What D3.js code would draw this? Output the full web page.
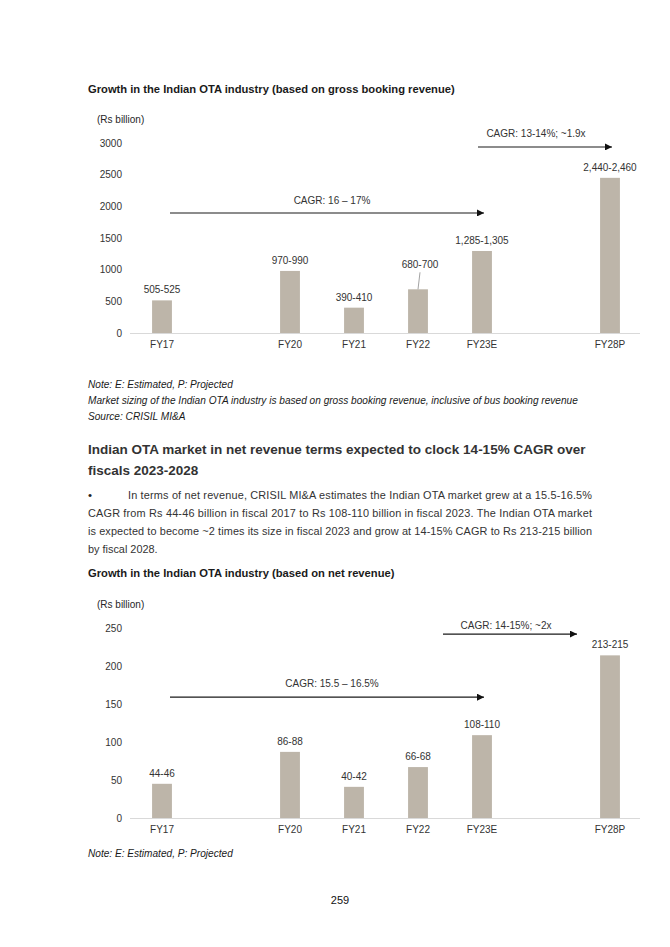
<!DOCTYPE html>
<html>
<head>
<meta charset="utf-8">
<script src="https://cdn.jsdelivr.net/npm/d3@7/dist/d3.min.js"></script>
<style>
  html, body { margin: 0; padding: 0; background: #fff; }
  svg { display: block; }
  text { font-family: Arial, "Liberation Sans", sans-serif; }
</style>
</head>
<body>
<svg id="page" width="670" height="947"></svg>
<script>
// ---------- DATA ----------
const categories = ["FY17", "FY20", "FY21", "FY22", "FY23E", "FY28P"];
// axis slots (empty gaps keep the original spacing)
const slots = ["FY17", "gap1", "FY20", "FY21", "FY22", "FY23E", "gap2", "FY28P"];

const grossValues = [515, 980, 400, 690, 1295, 2450];
const grossLabels = ["505-525", "970-990", "390-410", "680-700", "1,285-1,305", "2,440-2,460"];
const grossTicks = [0, 500, 1000, 1500, 2000, 2500, 3000];

const netValues = [45, 87, 41, 67, 109, 214];
const netLabels = ["44-46", "86-88", "40-42", "66-68", "108-110", "213-215"];
const netTicks = [0, 50, 100, 150, 200, 250];

const grossCagr = ["CAGR: 16 – 17%", "CAGR: 13-14%; ~1.9x"];
const netCagr = ["CAGR: 15.5 – 16.5%", "CAGR: 14-15%; ~2x"];

const unitLabel = "(Rs billion)";
const title1 = "Growth in the Indian OTA industry (based on gross booking revenue)";
const title2 = "Growth in the Indian OTA industry (based on net revenue)";
const notes1 = ["Note: E: Estimated, P: Projected",
  "Market sizing of the Indian OTA industry is based on gross booking revenue, inclusive of bus booking revenue",
  "Source: CRISIL MI&A"];
const note2 = "Note: E: Estimated, P: Projected";
const heading = ["Indian OTA market in net revenue terms expected to clock 14-15% CAGR over", "fiscals 2023-2028"];
const para = [
  "In terms of net revenue, CRISIL MI&A estimates the Indian OTA market grew at a 15.5-16.5%",
  "CAGR from Rs 44-46 billion in fiscal 2017 to Rs 108-110 billion in fiscal 2023. The Indian OTA market",
  "is expected to become ~2 times its size in fiscal 2023 and grow at 14-15% CAGR to Rs 213-215 billion",
  "by fiscal 2028."];
const pageNo = "259";

// ---------- STYLE ----------
const BAR = "#bdb5a9";
const TXT = "#262626";
const AX = "#d9d9d9";

const svg = d3.select("#page");
svg.append("rect").attr("width", 670).attr("height", 947).attr("fill", "#fff");

const defs = svg.append("defs");
defs.append("marker").attr("id", "arr").attr("viewBox", "0 0 10 10")
  .attr("refX", 10).attr("refY", 5).attr("markerWidth", 9).attr("markerHeight", 7)
  .attr("markerUnits", "userSpaceOnUse").attr("orient", "auto")
  .append("path").attr("d", "M0,0 L10,5 L0,10 Z").attr("fill", "#111");

// ---------- TEXT BLOCKS ----------
function txt(x, y, s, opts = {}) {
  const t = svg.append("text").attr("x", x).attr("y", y).text(s)
    .attr("fill", opts.fill || TXT)
    .attr("font-size", opts.size || 10)
    .attr("font-weight", opts.weight || "normal")
    .attr("font-style", opts.style || "normal");
  if (opts.anchor) t.attr("text-anchor", opts.anchor);
  if (opts.family) t.attr("font-family", opts.family);
  if (opts.len) t.attr("textLength", opts.len).attr("lengthAdjust", "spacing");
  return t;
}

txt(88, 93, title1, { size: 11.2, weight: "bold", fill: "#1a1a1a" });
notes1.forEach((n, i) => txt(88, 387.5 + i * 16, n, { size: 10.1, style: "italic", fill: "#1a1a1a" }));
txt(88, 454, heading[0], { size: 13.5, weight: "bold", fill: "#333" });
txt(88, 474.5, heading[1], { size: 13.5, weight: "bold", fill: "#333" });
txt(88, 499, "•", { size: 11.5, fill: "#222" });
txt(128, 499, para[0], { size: 10.9, fill: "#333", len: 464 });
txt(88, 517, para[1], { size: 10.9, fill: "#333", len: 504 });
txt(88, 535, para[2], { size: 10.9, fill: "#333", len: 504 });
txt(88, 553, para[3], { size: 10.9, fill: "#333" });
txt(88, 577, title2, { size: 11.2, weight: "bold", fill: "#1a1a1a" });
txt(88, 856.5, note2, { size: 10.1, style: "italic", fill: "#1a1a1a" });
txt(340, 904, pageNo, { size: 11, family: "'Liberation Serif', 'DejaVu Serif', serif", anchor: "middle", fill: "#111" });

// ---------- CHART ----------
function drawChart(cfg) {
  const g = svg.append("g");
  const x = d3.scaleBand().domain(slots).range([130, 642]).paddingInner(0.69).paddingOuter(0.345);
  const y = d3.scaleLinear().domain([0, cfg.max]).range([cfg.y0, cfg.yTop]);

  // unit label
  g.append("text").attr("x", 97).attr("y", cfg.unitY).text(unitLabel)
    .attr("font-size", 10).attr("fill", TXT);

  // y axis (labels only)
  const ya = g.append("g").attr("transform", "translate(130,0)")
    .call(d3.axisLeft(y).tickValues(cfg.ticks).tickSize(0).tickPadding(8).tickFormat(d3.format("d")));
  ya.select(".domain").remove();
  ya.selectAll("text").attr("font-size", 10).attr("fill", "#333")
    .attr("font-family", "Arial, 'Liberation Sans', sans-serif");

  // x axis
  const xa = g.append("g").attr("transform", `translate(0,${cfg.y0})`)
    .call(d3.axisBottom(x).tickValues(categories).tickSize(0).tickPadding(8));
  xa.select(".domain").attr("stroke", AX).attr("d", `M130,0.5H640`);
  xa.selectAll("text").attr("font-size", 10).attr("fill", "#333")
    .attr("font-family", "Arial, 'Liberation Sans', sans-serif");

  // bars
  g.selectAll("rect.bar").data(categories).join("rect").attr("class", "bar")
    .attr("x", d => x(d)).attr("width", x.bandwidth())
    .attr("y", (d, i) => y(cfg.values[i]))
    .attr("height", (d, i) => y(0) - y(cfg.values[i]))
    .attr("fill", BAR);

  // value labels
  categories.forEach((c, i) => {
    const cx = x(c) + x.bandwidth() / 2;
    const top = y(cfg.values[i]);
    const isLeader = cfg.leader && cfg.leader.cat === c;
    const lift = isLeader ? cfg.leader.lift : 7;
    g.append("text").attr("x", cx + (isLeader ? 2 : 0))
      .attr("y", top - lift).attr("text-anchor", "middle")
      .attr("font-size", 10).attr("fill", "#333").text(cfg.labels[i]);
    if (isLeader) {
      g.append("line").attr("x1", cx + 2).attr("y1", top - lift + 4)
        .attr("x2", cx).attr("y2", top).attr("stroke", "#8c8c8c").attr("stroke-width", 0.8);
    }
  });

  // CAGR arrows
  cfg.arrows.forEach(a => {
    const x1 = x(a.from) + x.bandwidth() / 2 + a.dx1;
    const x2 = x(a.to) + x.bandwidth() / 2 + a.dx2;
    const yy = y(a.v);
    g.append("line").attr("x1", x1).attr("x2", x2).attr("y1", yy).attr("y2", yy)
      .attr("stroke", "#1a1a1a").attr("stroke-width", 1.1).attr("marker-end", "url(#arr)");
    g.append("text").attr("x", a.tx).attr("y", yy - a.ty).attr("text-anchor", "middle")
      .attr("font-size", 10).attr("fill", "#333").text(a.text);
  });
}

drawChart({
  max: 3000, y0: 333, yTop: 143, ticks: grossTicks, values: grossValues, labels: grossLabels,
  unitY: 122.5,
  leader: { cat: "FY22", lift: 21 },
  arrows: [
    { from: "FY17", to: "FY23E", dx1: 8, dx2: 2, v: 1895, text: grossCagr[0], tx: 332, ty: 8.5 },
    { from: "FY23E", to: "FY28P", dx1: -4, dx2: 2, v: 2938, text: grossCagr[1], tx: 536, ty: 10 }
  ]
});

drawChart({
  max: 250, y0: 818, yTop: 628, ticks: netTicks, values: netValues, labels: netLabels,
  unitY: 607.5,
  leader: null,
  arrows: [
    { from: "FY17", to: "FY23E", dx1: 8, dx2: 2, v: 159, text: netCagr[0], tx: 332, ty: 10.5 },
    { from: "FY23E", to: "FY28P", dx1: -39, dx2: -33, v: 242, text: netCagr[1], tx: 506, ty: 5 }
  ]
});
</script>
</body>
</html>
